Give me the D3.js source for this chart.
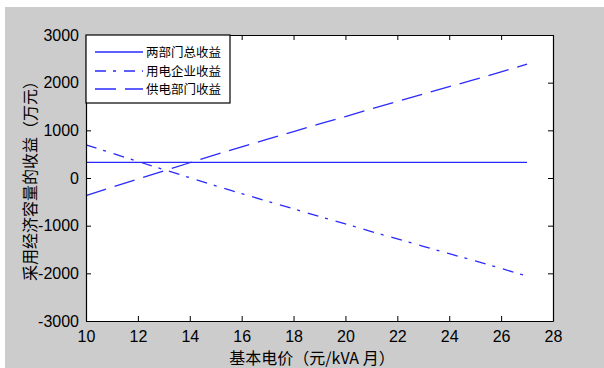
<!DOCTYPE html>
<html>
<head>
<meta charset="utf-8">
<script src="https://cdn.jsdelivr.net/npm/d3@7"></script>
<style>
  body { margin: 0; background: #ffffff; }
  svg { display: block; }
</style>
</head>
<body>
<svg id="chart" width="604" height="368"></svg>
<script>
// values (万元)
var prices = [10, 11, 12, 13, 14, 15, 16, 17, 18, 19, 20, 21, 22, 23, 24, 25, 26, 27];
var totalIncome = [327, 327, 327, 327, 327, 327, 327, 327, 327, 327, 327, 327, 327, 327, 327, 327, 327, 327];
var userIncome = [697, 522, 347, 177, 7, -163, -328, -488, -648, -808, -963, -1123, -1278, -1433, -1588, -1740, -1898, -2060];
var supplyIncome = [-370, -195, -20, 150, 320, 490, 655, 815, 975, 1135, 1290, 1450, 1605, 1760, 1915, 2067, 2225, 2387];
var xTicks = [10, 12, 14, 16, 18, 20, 22, 24, 26, 28];
var yTicks = [-3000, -2000, -1000, 0, 1000, 2000, 3000];
var seriesNames = ["两部门总收益", "用电企业收益", "供电部门收益"];

var svg = d3.select("#chart");
// plot box (window.top is reserved, so pTop etc.)
var pLeft = 86, pRight = 553, pTop = 35, pBottom = 321;
var blue = "#2a2aff";
var dashes = [null, "11,7,3,8", "21,9"];
var series = [totalIncome, userIncome, supplyIncome];

// grey figure background
svg.append("rect")
    .attr("x", 5).attr("y", 7)
    .attr("width", 599).attr("height", 361)
    .attr("fill", "#cccccc");

var x = d3.scaleLinear().domain([10, 28]).range([pLeft, pRight]);
var y = d3.scaleLinear().domain([-3000, 3000]).range([pBottom, pTop]);

svg.append("rect")
    .attr("x", pLeft).attr("y", pTop)
    .attr("width", pRight - pLeft).attr("height", pBottom - pTop)
    .attr("fill", "#ffffff");

// lines
var line = d3.line()
    .x(function (d, i) { return x(prices[i]); })
    .y(function (d) { return y(d); });

series.forEach(function (s, k) {
    svg.append("path")
        .datum(s)
        .attr("d", line)
        .attr("fill", "none")
        .attr("stroke", blue)
        .attr("stroke-width", 1.3)
        .attr("stroke-dasharray", dashes[k]);
});

// axes, matlab style box with inward ticks
var fontNum = "Arial, 'Liberation Sans', sans-serif";
var plainNum = function (d) { return String(d); }; // keep the ascii hyphen
var gx = svg.append("g")
    .attr("transform", "translate(0," + pBottom + ")")
    .call(d3.axisBottom(x).tickValues(xTicks).tickSizeInner(-5).tickSizeOuter(0).tickPadding(10).tickFormat(plainNum));
var gxTop = svg.append("g")
    .attr("transform", "translate(0," + pTop + ")")
    .call(d3.axisTop(x).tickValues(xTicks).tickSizeInner(-5).tickSizeOuter(0).tickFormat(""));
var gy = svg.append("g")
    .attr("transform", "translate(" + pLeft + ",0)")
    .call(d3.axisLeft(y).tickValues(yTicks).tickSizeInner(-5).tickSizeOuter(0).tickPadding(7).tickFormat(plainNum));
var gyRight = svg.append("g")
    .attr("transform", "translate(" + pRight + ",0)")
    .call(d3.axisRight(y).tickValues(yTicks).tickSizeInner(-5).tickSizeOuter(0).tickFormat(""));

[gx, gxTop, gy, gyRight].forEach(function (g) {
    g.selectAll("path").attr("stroke", "#000").attr("stroke-width", 1.2);
    g.selectAll("line").attr("stroke", "#000");
    g.selectAll("text")
        .attr("font-family", fontNum)
        .attr("font-size", "16px")
        .attr("fill", "#000");
});

// axis titles
svg.append("text")
    .attr("x", 312).attr("y", 364)
    .attr("text-anchor", "middle")
    .attr("font-family", "'Noto Sans CJK SC', sans-serif")
    .attr("font-size", "16px")
    .attr("fill", "#000")
    .text("基本电价（元/kVA 月）");

svg.append("text")
    .attr("transform", "translate(36,177) rotate(-90)")
    .attr("text-anchor", "middle")
    .attr("font-family", "'Noto Sans CJK SC', sans-serif")
    .attr("font-size", "16px")
    .attr("fill", "#000")
    .text("采用经济容量的收益（万元）");

// legend
var leg = svg.append("g");
leg.append("rect")
    .attr("x", pLeft).attr("y", pTop)
    .attr("width", 144).attr("height", 68)
    .attr("fill", "#ffffff")
    .attr("stroke", "#000")
    .attr("stroke-width", 1.2);

var legRows = [52, 71, 89];
seriesNames.forEach(function (name, k) {
    leg.append("line")
        .attr("x1", 95).attr("x2", 143)
        .attr("y1", legRows[k]).attr("y2", legRows[k])
        .attr("stroke", blue)
        .attr("stroke-width", 1.3)
        .attr("stroke-dasharray", dashes[k]);
    leg.append("text")
        .attr("x", 146).attr("y", legRows[k] + 4.5)
        .attr("font-family", "'Noto Sans CJK SC', sans-serif")
        .attr("font-size", "12.5px")
        .attr("fill", "#000")
        .text(name);
});
</script>
</body>
</html>
